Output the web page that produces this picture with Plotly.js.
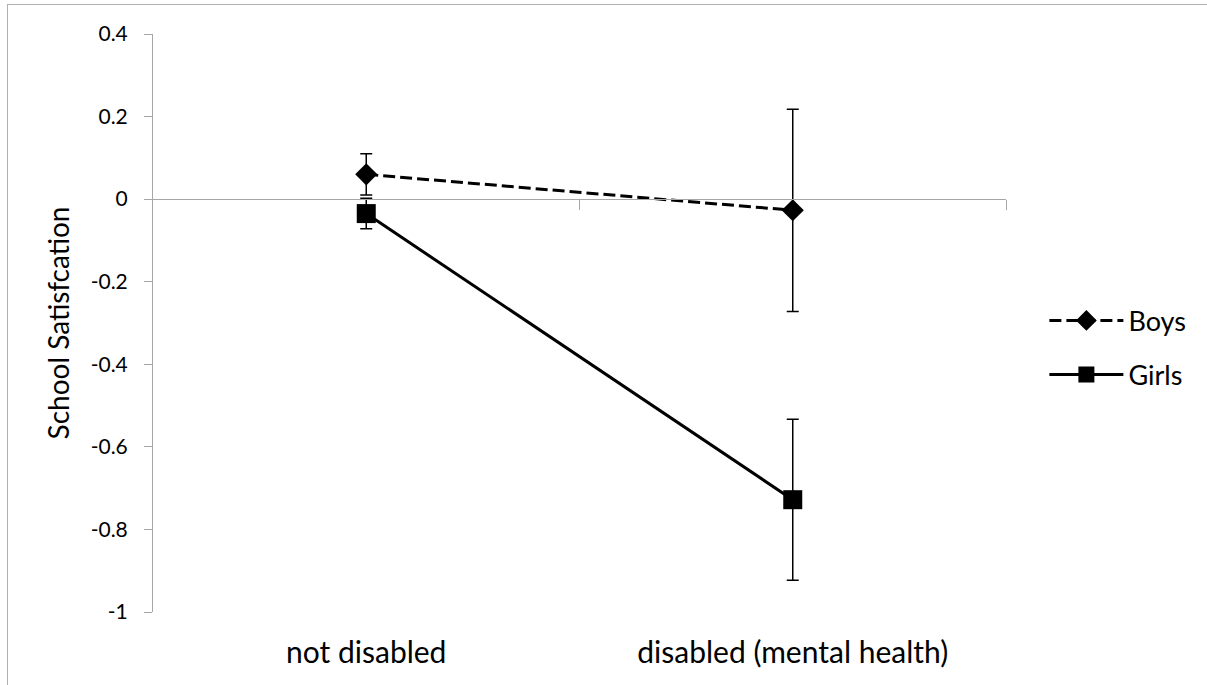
<!DOCTYPE html>
<html>
<head>
<meta charset="utf-8">
<script src="https://cdn.plot.ly/plotly-3.0.1.min.js"></script>
<style>
  html, body { margin: 0; padding: 0; background: #fff; }
  #frame { position: absolute; left: 7px; top: 4px; width: 1200px; height: 681px;
           border-left: 1px solid #b0b0b0; border-top: 1px solid #b0b0b0; }
  #chart { position: absolute; left: 0; top: 0; width: 1207px; height: 685px; }
</style>
</head>
<body>
<div id="frame"></div>
<div id="chart"></div>
<script>
const categories = ["not disabled", "disabled (mental health)"];
const boysValues = [0.06, -0.027];
const boysErrors = [0.05, 0.245];
const girlsValues = [-0.035, -0.728];
const girlsErrors = [0.037, 0.195];
const yTickVals = [0.4, 0.2, 0, -0.2, -0.4, -0.6, -0.8, -1];
const yTickText = ["0.4", "0.2", "0", "-0.2", "-0.4", "-0.6", "-0.8", "-1"];
const xPositions = [0, 1];
const boundaryTicks = [0.5, 1.5];

const FONT = "Lato, 'Open Sans', sans-serif";
const AX = "#a6a6a6";

const traces = [
  {
    x: xPositions, y: boysValues, name: "Boys", type: "scatter", mode: "lines+markers",
    legendgroup: "boys",
    line: { color: "#000", width: 3, dash: "12px,5px" },
    marker: { symbol: "diamond", size: 17, color: "#000" },
    error_y: { type: "data", array: boysErrors, visible: true, color: "#000", thickness: 1.5, width: 6 }
  },
  {
    x: xPositions, y: girlsValues, name: "Girls", type: "scatter", mode: "lines+markers",
    legendgroup: "girls",
    line: { color: "#000", width: 3 },
    marker: { symbol: "square", size: 19, color: "#000" },
    error_y: { type: "data", array: girlsErrors, visible: true, color: "#000", thickness: 1.5, width: 6 }
  }
];

// invisible trace to activate the secondary x axis drawn at y = 0
traces.push({ x: boundaryTicks, y: [0, 0], xaxis: "x2", type: "scatter", mode: "lines",
  line: { color: AX, width: 0 }, showlegend: false, hoverinfo: "skip" });

const layout = {
  width: 1207, height: 685,
  margin: { l: 153, r: 201, t: 34, b: 73 },
  paper_bgcolor: "rgba(0,0,0,0)", plot_bgcolor: "rgba(0,0,0,0)",
  font: { family: FONT, color: "#000", size: 20 },
  showlegend: true,
  legend: {
    x: 1.045, y: 0.457, xanchor: "left", yanchor: "middle",
    font: { family: FONT, size: 27, color: "#000" },
    tracegroupgap: 16, itemwidth: 74, bgcolor: "rgba(0,0,0,0)"
  },
  xaxis: {
    range: [-0.5, 1.5], tickvals: xPositions, ticktext: categories,
    showline: false, showgrid: false, zeroline: false,
    ticks: "outside", ticklen: 14, tickcolor: "rgba(0,0,0,0)",
    tickfont: { family: FONT, size: 30, color: "#000" }, fixedrange: true
  },
  xaxis2: {
    overlaying: "x", anchor: "free", position: 1 / 1.4, side: "bottom",
    range: [-0.5, 1.5], tickvals: boundaryTicks, showticklabels: false,
    showline: true, linecolor: AX, linewidth: 1,
    ticks: "outside", ticklen: 10, tickcolor: AX, tickwidth: 1,
    showgrid: false, zeroline: false
  },
  yaxis: {
    range: [-1, 0.4], tickvals: yTickVals, ticktext: yTickText,
    showline: true, linecolor: AX, linewidth: 1,
    ticks: "outside", ticklen: 8, tickcolor: AX, tickwidth: 1,
    ticklabelstandoff: 12,
    showgrid: false, zeroline: false,
    tickfont: { family: FONT, size: 21, color: "#000" },
    title: { text: "School Satisfcation", font: { family: FONT, size: 28, color: "#000" }, standoff: 12 }
  }
};

Plotly.newPlot("chart", traces, layout, { staticPlot: true, displayModeBar: false });
</script>
</body>
</html>
